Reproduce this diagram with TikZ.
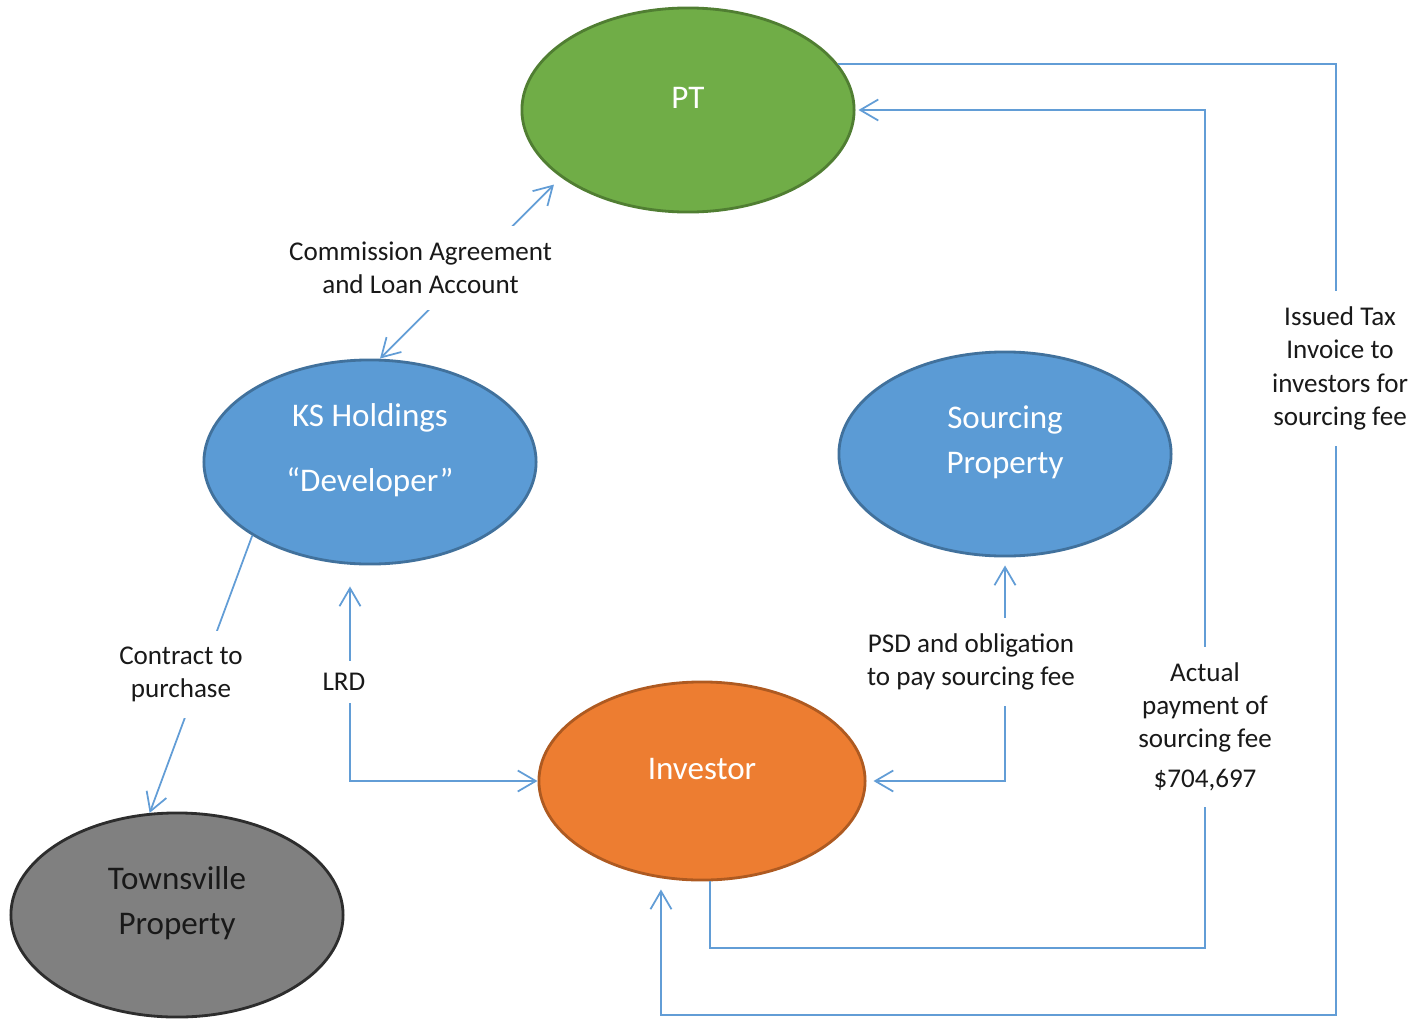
\documentclass[tikz,border=0pt]{standalone}
\usepackage{fontspec}
\setmainfont{Carlito}
\usetikzlibrary{arrows.meta,shapes.geometric}
\usepackage{xcolor}
\definecolor{ptgreen}{RGB}{112,173,71}
\definecolor{ptgreenedge}{RGB}{80,126,50}
\definecolor{ksblue}{RGB}{91,155,213}
\definecolor{ksblueedge}{RGB}{65,113,156}
\definecolor{invorange}{RGB}{237,125,49}
\definecolor{invorangeedge}{RGB}{174,90,33}
\definecolor{towngray}{RGB}{128,128,128}
\definecolor{towngrayedge}{RGB}{45,45,45}
\definecolor{flowblue}{RGB}{98,157,214}
\definecolor{lbltext}{RGB}{25,25,25}

\tikzset{
  party/.style={ellipse, line width=0.8pt, minimum width=3.32cm,
    minimum height=2.04cm, inner sep=0pt},
  partytext/.style={text=white, align=center, yshift=0.12cm,
    font=\fontsize{9.4}{12.9}\selectfont},
  flow/.style={draw=flowblue, line width=0.5pt},
  lbl/.style={fill=white, text=lbltext, align=center, inner xsep=2pt,
    inner ysep=0.16cm, font=\fontsize{7.7}{9.4}\selectfont}
}

\begin{document}
\begin{tikzpicture}[x=0.01cm, y=-0.01cm,
  >={Straight Barb[length=1.8mm,width=2.1mm]}]
  \useasboundingbox (0,0) rectangle (1415,1018);

  % --- parties ---
  \node[party, fill=ptgreen, draw=ptgreenedge,
    label={[partytext, name=pt-text]center:PT}] (pt) at (688,110) {};
  \node[party, fill=ksblue, draw=ksblueedge,
    label={[partytext, name=ks-text]center:KS Holdings\\[0.2cm]``Developer''}]
    (ks) at (370,462) {};
  \node[party, fill=ksblue, draw=ksblueedge,
    label={[partytext, name=src-text]center:Sourcing\\Property}]
    (src) at (1005,454) {};
  \node[party, fill=invorange, draw=invorangeedge, minimum width=3.26cm,
    minimum height=1.98cm,
    label={[partytext, name=inv-text]center:Investor}] (inv) at (702,781) {};
  \node[party, fill=towngray, draw=towngrayedge,
    label={[partytext, text=lbltext, name=town-text]center:Townsville\\Property}]
    (town) at (177,915) {};

  % --- agreements and payments ---
  \draw[flow,<->,shorten >=0.1cm] ([xshift=0.1cm]ks.north) -- (pt.208)
    node[lbl, pos=0.5, xshift=-0.5cm] {Commission Agreement\\and Loan Account};

  \draw[flow,->] (ks.212) -- (town.105)
    node[lbl, pos=0.5, xshift=-0.2cm] {Contract to\\purchase};

  \draw[flow,<->,shorten <=0.21cm] ([xshift=-0.2cm]ks.south) |- (inv.west)
    node[lbl, pos=0.27, xshift=-0.06cm, inner ysep=0.12cm] {LRD};

  \draw[flow,<->,shorten <=0.08cm,shorten >=0.07cm] (src.south) |- (inv.east)
    node[lbl, pos=0.234, xshift=-0.34cm] {PSD and obligation\\to pay sourcing fee};

  \draw[flow,->,shorten >=0.03cm] ([xshift=0.08cm]inv.south) |- (1205,948)
    |- node[lbl, pos=0.132]
      {Actual\\payment of\\sourcing fee\\[2pt]\$704,697} (pt.east);

  \draw[flow,->,shorten >=0.08cm] (pt.17)
    -| node[lbl, pos=0.66, xshift=0.04cm]
      {Issued Tax\\Invoice to\\investors for\\sourcing fee} (1336,1015)
    -| ([xshift=-0.41cm]inv.south);

\end{tikzpicture}
\end{document}
